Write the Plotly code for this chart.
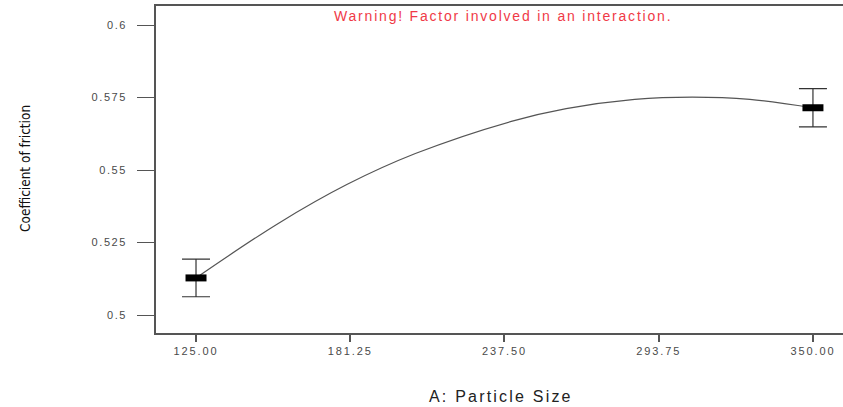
import plotly.graph_objects as go

# Design points (factor levels) with predicted means and error bars
x_points = [125.00, 350.00]
y_points = [0.5128, 0.5715]
y_err = [0.0065, 0.0066]

# Model curve
x_curve = [125, 155, 180, 205, 240, 260, 285, 306, 327, 350]
y_curve = [0.5128, 0.5316, 0.5450, 0.5557, 0.5668, 0.5712, 0.5744, 0.5752, 0.5744, 0.5715]

x_ticks = [125.00, 181.25, 237.50, 293.75, 350.00]
x_tick_labels = ["125.00", "181.25", "237.50", "293.75", "350.00"]
y_ticks = [0.5, 0.525, 0.55, 0.575, 0.6]
y_tick_labels = ["0.5", "0.525", "0.55", "0.575", "0.6"]

W, H = 843, 407
L, R, T, B = 156, 0, 6, 74
PW, PH = W - L - R, H - T - B


def spaced(s, px):
    return f"<span style='letter-spacing:{px}px'>{s}</span>"


axis_font = dict(family="Liberation Sans, Arial, sans-serif", size=11, color="#4a4a4a")

fig = go.Figure()
fig.add_trace(go.Scatter(
    x=x_curve, y=y_curve, mode="lines",
    line=dict(color="#555555", width=1.2, shape="spline"),
    hoverinfo="skip", showlegend=False))
fig.add_trace(go.Scatter(
    x=x_points, y=y_points, mode="markers",
    marker=dict(symbol="line-ew", size=15, color="black",
                line=dict(color="black", width=7)),
    error_y=dict(type="data", array=y_err, visible=True,
                 color="#333333", thickness=1.2, width=14),
    showlegend=False))

fig.update_layout(
    width=W, height=H,
    margin=dict(l=L, r=R, t=T, b=B, pad=0, autoexpand=False),
    paper_bgcolor="white", plot_bgcolor="white",
    xaxis=dict(range=[110.41, 360.96], tickvals=x_ticks,
               ticktext=[spaced(t, 1.9) for t in x_tick_labels],
               automargin=False,
               showgrid=False, zeroline=False, showline=True, mirror=True,
               linecolor="#555555", linewidth=1.5, ticks="outside", ticklen=7,
               tickcolor="#555555", tickwidth=1.5, tickfont=axis_font),
    yaxis=dict(range=[0.4938, 0.6066], tickvals=y_ticks,
               ticktext=[spaced(t, 1.6) for t in y_tick_labels],
               automargin=False, ticklabelstandoff=8,
               showgrid=False, zeroline=False, showline=True, mirror=False,
               linecolor="#555555", linewidth=1.5, ticks="outside", ticklen=17,
               tickcolor="#555555", tickwidth=1.2, tickfont=axis_font),
    annotations=[
        dict(text=spaced("Warning! Factor involved in an interaction.", 1.8), xref="paper", yref="paper",
             x=(503 - L) / PW, y=(333 - 16) / PH, xanchor="center", yanchor="middle",
             showarrow=False, font=dict(family="Liberation Sans, Arial, sans-serif", size=14, color="#f03a47")),
        dict(text=spaced("A: Particle Size", 2.2), xref="paper", yref="paper",
             x=(501 - L) / PW, y=-(396 - 333) / PH, xanchor="center", yanchor="middle",
             showarrow=False, font=dict(family="Liberation Sans, Arial, sans-serif", size=16, color="#222222")),
        dict(text="Coefficient of friction", xref="paper", yref="paper", textangle=-90,
             x=(25 - L) / PW, y=(333 - 169) / PH, xanchor="center", yanchor="middle",
             showarrow=False, font=dict(family="Liberation Sans Narrow, Arial Narrow, DejaVu Sans Condensed, sans-serif",
                                        size=13.5, color="#111111")),
    ],
)

fig.write_html("out.html", config={"displayModeBar": False},
               post_script="document.body.style.margin='0';document.body.style.overflow='hidden';")
